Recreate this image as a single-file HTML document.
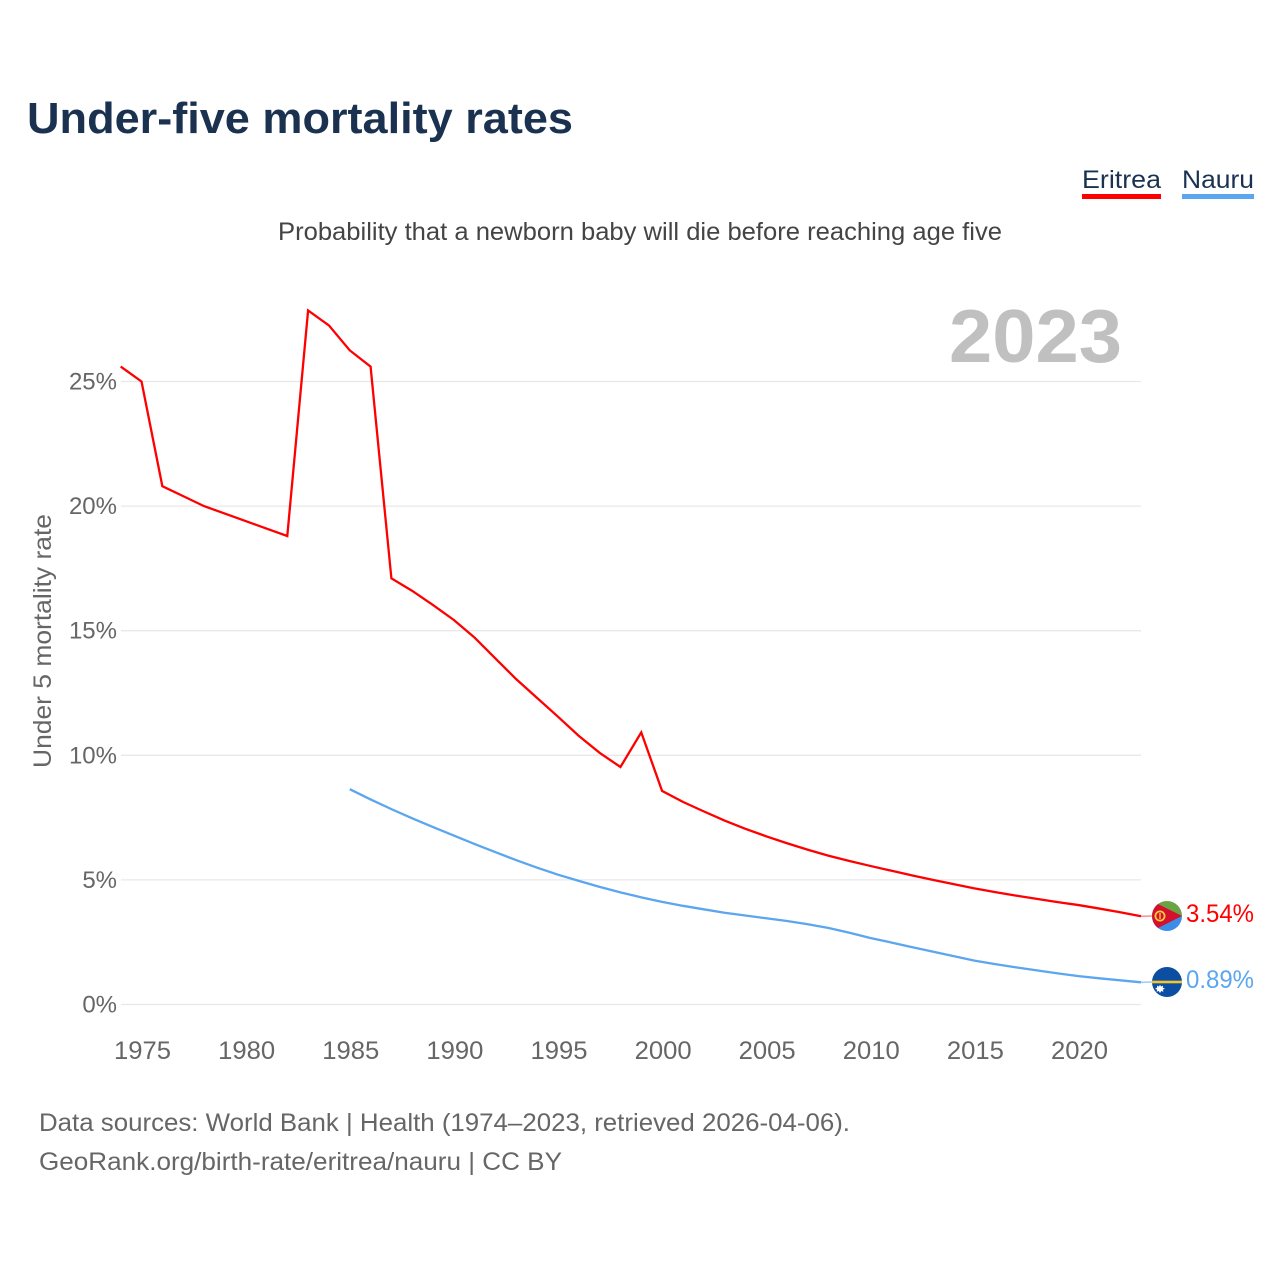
<!DOCTYPE html>
<html lang="en">
<head>
<meta charset="utf-8">
<title>Under-five mortality rates</title>
<style>
html,body{margin:0;padding:0;background:#fff;width:1280px;height:1280px;overflow:hidden}
svg{display:block}
text{font-family:"Liberation Sans",sans-serif}
</style>
</head>
<body>
<svg id="chart" xmlns="http://www.w3.org/2000/svg" width="1280" height="1280" viewBox="0 0 1280 1280">
  <defs>
    <clipPath id="clip-er"><circle cx="1167" cy="916" r="15"/></clipPath>
    <clipPath id="clip-na"><circle cx="1167" cy="982" r="15"/></clipPath>
  </defs>
  <text x="27" y="133" font-size="44" font-weight="700" fill="#1a3150" textLength="546" lengthAdjust="spacingAndGlyphs">Under-five mortality rates</text>

  <g>
    <g>
      <text x="1082" y="188" font-size="25" fill="#1a3150" textLength="79" lengthAdjust="spacingAndGlyphs">Eritrea</text>
      <rect x="1082" y="194" width="79" height="5" fill="#ff0000"/>
    </g>
    <g>
      <text x="1182" y="188" font-size="25" fill="#1a3150" textLength="72" lengthAdjust="spacingAndGlyphs">Nauru</text>
      <rect x="1182" y="194" width="72" height="5" fill="#5ba6ee"/>
    </g>
  </g>

  <text x="278" y="240" font-size="25" fill="#444444" textLength="724" lengthAdjust="spacingAndGlyphs">Probability that a newborn baby will die before reaching age five</text>
  <text x="949" y="362" font-size="75" font-weight="700" fill="#c0c0c0" textLength="173" lengthAdjust="spacingAndGlyphs">2023</text>
  <text transform="translate(51,768) rotate(-90)" font-size="25" fill="#666666" textLength="254" lengthAdjust="spacingAndGlyphs">Under 5 mortality rate</text>

  <g id="grid"></g>
  <g id="yticks"></g>
  <g id="xticks"></g>
  <g id="series"></g>

  <g>
    <line id="er-link" x1="1141" x2="1152" y1="916" y2="916" stroke="#ff0000" stroke-opacity="0.45" stroke-width="1.5"/>
    <g clip-path="url(#clip-er)">
      <rect x="1152" y="901" width="30" height="15" fill="#6aa344"/>
      <rect x="1152" y="916" width="30" height="15" fill="#3b8de8"/>
      <polygon points="1152,901 1182,916 1152,931" fill="#d5102e"/>
      <circle cx="1160" cy="916" r="4.6" fill="none" stroke="#f6cb3a" stroke-width="1.8"/>
      <line x1="1160" y1="913" x2="1160" y2="919" stroke="#f6cb3a" stroke-width="1.4"/>
    </g>
    <text x="1186" y="922" font-size="25" fill="#ff0000" textLength="68" lengthAdjust="spacingAndGlyphs">3.54%</text>
  </g>
  <g>
    <line id="na-link" x1="1141" x2="1152" y1="982" y2="982" stroke="#5ba6ee" stroke-opacity="0.6" stroke-width="1.5"/>
    <g clip-path="url(#clip-na)">
      <rect x="1152" y="967" width="30" height="30" fill="#0b4ea2"/>
      <rect x="1152" y="980.7" width="30" height="2.6" fill="#f6c52d"/>
      <polygon points="1160,984.6 1161,986.6 1163,985.6 1162.9,987.8 1165,988.6 1162.9,989.6 1163.4,991.8 1161.2,991 1160,993 1158.8,991 1156.6,991.8 1157.1,989.6 1155,988.6 1157.1,987.8 1157,985.6 1159,986.6" fill="#ffffff"/>
    </g>
    <text x="1186" y="988" font-size="25" fill="#5ba6ee" textLength="68" lengthAdjust="spacingAndGlyphs">0.89%</text>
  </g>

  <text x="39" y="1131" font-size="25" fill="#666666" textLength="811" lengthAdjust="spacingAndGlyphs">Data sources: World Bank | Health (1974–2023, retrieved 2026-04-06).</text>
  <text x="39" y="1170" font-size="25" fill="#666666" textLength="523" lengthAdjust="spacingAndGlyphs">GeoRank.org/birth-rate/eritrea/nauru | CC BY</text>
</svg>
<script>
const eritreaStartYear = 1974;
const eritreaValues = [25.6,25.0,20.8,20.4,20.0,19.7,19.4,19.1,18.8,27.85,27.25,26.25,25.6,17.1,16.6,16.03,15.43,14.72,13.88,13.05,12.3,11.55,10.78,10.1,9.53,10.92,8.57,8.13,7.75,7.38,7.05,6.75,6.47,6.21,5.97,5.76,5.56,5.37,5.18,5.0,4.83,4.66,4.51,4.37,4.24,4.11,3.99,3.85,3.7,3.54];
const nauruStartYear = 1985;
const nauruValues = [8.64,8.23,7.84,7.47,7.12,6.78,6.44,6.11,5.79,5.49,5.21,4.96,4.72,4.5,4.3,4.12,3.96,3.82,3.68,3.57,3.46,3.35,3.22,3.07,2.88,2.67,2.49,2.3,2.12,1.94,1.76,1.62,1.49,1.37,1.25,1.14,1.05,0.97,0.89];
const yTicks = [0,5,10,15,20,25];
const xTicks = [1975,1980,1985,1990,1995,2000,2005,2010,2015,2020];

const NS = 'http://www.w3.org/2000/svg';
function xScale(year){ return 120.7 + (year - 1974) * (1141 - 120.7) / (2023 - 1974); }
function yScale(v){ return 1004.5 - v * 24.92; }

const grid = document.getElementById('grid');
const yG = document.getElementById('yticks');
const xG = document.getElementById('xticks');
const seriesG = document.getElementById('series');

yTicks.forEach(function(t){
  const line = document.createElementNS(NS,'line');
  
  
  line.setAttribute('x1', 121);
  line.setAttribute('x2', 1141);
  line.setAttribute('y1', yScale(t));
  line.setAttribute('y2', yScale(t));
  line.setAttribute('stroke', '#e8e8e8');
  line.setAttribute('stroke-width', '1.3');
  grid.appendChild(line);

  const label = document.createElementNS(NS,'text');
  
  
  label.setAttribute('x', 117);
  label.setAttribute('y', yScale(t) + 8);
  label.setAttribute('text-anchor', 'end');
  label.setAttribute('font-size', '24');
  label.setAttribute('fill', '#666666');
  label.textContent = t + '%';
  yG.appendChild(label);
});

xTicks.forEach(function(t){
  const label = document.createElementNS(NS,'text');
  
  
  label.setAttribute('x', xScale(t) + 1);
  label.setAttribute('y', 1059);
  label.setAttribute('text-anchor', 'middle');
  label.setAttribute('font-size', '25');
  label.setAttribute('fill', '#666666');
  label.setAttribute('textLength', '57');
  label.setAttribute('lengthAdjust', 'spacingAndGlyphs');
  label.textContent = t;
  xG.appendChild(label);
});

function buildPath(values, startYear){
  return values.map(function(v,i){
    return (i ? 'L' : 'M') + xScale(startYear + i).toFixed(2) + ' ' + yScale(v).toFixed(2);
  }).join(' ');
}

const eritreaLine = document.createElementNS(NS,'path');


eritreaLine.setAttribute('d', buildPath(eritreaValues, eritreaStartYear));
eritreaLine.setAttribute('fill', 'none');
eritreaLine.setAttribute('stroke', '#ff0000');
eritreaLine.setAttribute('stroke-width', '2.3');
seriesG.appendChild(eritreaLine);

const nauruLine = document.createElementNS(NS,'path');


nauruLine.setAttribute('d', buildPath(nauruValues, nauruStartYear));
nauruLine.setAttribute('fill', 'none');
nauruLine.setAttribute('stroke', '#5ba6ee');
nauruLine.setAttribute('stroke-width', '2.3');
seriesG.appendChild(nauruLine);

document.getElementById('er-link').setAttribute('y1', yScale(eritreaValues[eritreaValues.length - 1]));
document.getElementById('na-link').setAttribute('y1', yScale(nauruValues[nauruValues.length - 1]));
</script>
</body>
</html>
